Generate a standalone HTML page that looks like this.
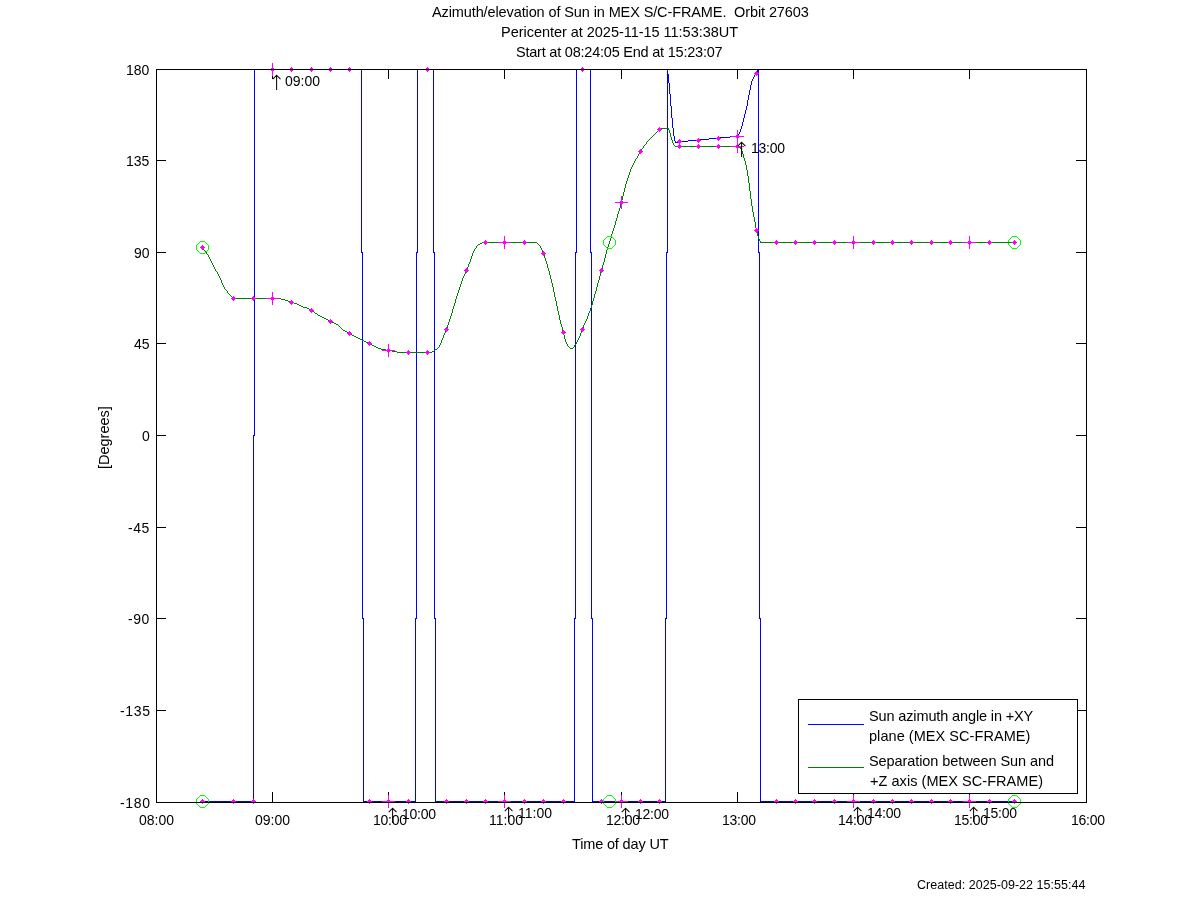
<!DOCTYPE html>
<html lang="en"><head><meta charset="utf-8"><title>Azimuth/elevation of Sun in MEX S/C-FRAME</title>
<style>html,body{margin:0;padding:0;background:#fff}body{width:1200px;height:901px;overflow:hidden}svg{display:block}text{font-family:"Liberation Sans",Arial,Helvetica,sans-serif;fill:#000}</style>
</head><body>
<svg width="1200" height="901" viewBox="0 0 1200 901">
<rect x="0" y="0" width="1200" height="901" fill="#fff"/>
<path d="M272.5,69 v10 M272.5,803 v-11 M388.5,69 v10 M388.5,803 v-11 M504.5,69 v10 M504.5,803 v-11 M621.5,69 v10 M621.5,803 v-11 M737.5,69 v10 M737.5,803 v-11 M853.5,69 v10 M853.5,803 v-11 M969.5,69 v10 M969.5,803 v-11 M156,160.5 h10 M1087,160.5 h-11 M156,252.5 h10 M1087,252.5 h-11 M156,343.5 h10 M1087,343.5 h-11 M156,435.5 h10 M1087,435.5 h-11 M156,527.5 h10 M1087,527.5 h-11 M156,618.5 h10 M1087,618.5 h-11 M156,710.5 h10 M1087,710.5 h-11" fill="none" stroke="#000" stroke-width="1" shape-rendering="crispEdges"/>
<path d="M202.5,801.5 H253.5 V435.5 H254.5 V69.5 H361.5 V252.5 H362.5 V618.5 H363.5 V801.5 H415.5 V618.5 H416.5 V252.5 H417.5 V69.5 H433.5 V252.5 H434.5 V618.5 H435.5 V801.5 H574.5 V618.5 H575.5 V252.5 H576.5 V69.5 H590.5 V252.5 H591.5 V618.5 H592.5 V801.5 H665.5 V618.5 H666.5 V252.5 H667.5 V69.5 M758.5,69.5 V252.5 H759.5 V618.5 H760.5 V801.5 H1014.5" fill="none" stroke="#0000ff" stroke-width="1" shape-rendering="crispEdges"/>
<path d="M730,136h8v1h-8zM720,137h10v1h-10zM709,138h11v1h-11zM700,139h9v1h-9zM688,140h12v1h-12zM678,141h10v1h-10zM675,142h3v1h-3zM667,69h1v5h-1zM668,74h1v9h-1zM669,83h1v11h-1zM670,94h1v12h-1zM671,106h1v12h-1zM672,118h1v10h-1zM673,128h1v8h-1zM674,136h1v5h-1zM675,141h1v1h-1zM738,134h1v2h-1zM739,132h1v2h-1zM740,129h1v3h-1zM741,126h1v3h-1zM742,122h1v4h-1zM743,118h1v4h-1zM744,114h1v4h-1zM745,110h1v4h-1zM746,106h1v4h-1zM747,100h1v6h-1zM748,95h1v5h-1zM749,90h1v5h-1zM750,85h1v5h-1zM751,81h1v4h-1zM752,79h1v2h-1zM753,77h1v2h-1zM754,75h1v2h-1zM755,74h1v1h-1zM756,72h1v2h-1zM757,70h1v2h-1zM758,69h1v1h-1z" fill="#0000ff" stroke="none" shape-rendering="crispEdges"/>
<path d="M200,241 h5v1h-5z M200,253 h5v1h-5z M196,245 h1v5h-1z M208,245 h1v5h-1z M205,242 h1v1h-1z M199,242 h1v1h-1z M205,252 h1v1h-1z M199,252 h1v1h-1z M206,243 h1v1h-1z M198,243 h1v1h-1z M206,251 h1v1h-1z M198,251 h1v1h-1z M207,244 h1v1h-1z M197,244 h1v1h-1z M207,250 h1v1h-1z M197,250 h1v1h-1z M200,795 h5v1h-5z M200,807 h5v1h-5z M196,799 h1v5h-1z M208,799 h1v5h-1z M205,796 h1v1h-1z M199,796 h1v1h-1z M205,806 h1v1h-1z M199,806 h1v1h-1z M206,797 h1v1h-1z M198,797 h1v1h-1z M206,805 h1v1h-1z M198,805 h1v1h-1z M207,798 h1v1h-1z M197,798 h1v1h-1z M207,804 h1v1h-1z M197,804 h1v1h-1z M1012,236 h5v1h-5z M1012,248 h5v1h-5z M1008,240 h1v5h-1z M1020,240 h1v5h-1z M1017,237 h1v1h-1z M1011,237 h1v1h-1z M1017,247 h1v1h-1z M1011,247 h1v1h-1z M1018,238 h1v1h-1z M1010,238 h1v1h-1z M1018,246 h1v1h-1z M1010,246 h1v1h-1z M1019,239 h1v1h-1z M1009,239 h1v1h-1z M1019,245 h1v1h-1z M1009,245 h1v1h-1z M1012,795 h5v1h-5z M1012,807 h5v1h-5z M1008,799 h1v5h-1z M1020,799 h1v5h-1z M1017,796 h1v1h-1z M1011,796 h1v1h-1z M1017,806 h1v1h-1z M1011,806 h1v1h-1z M1018,797 h1v1h-1z M1010,797 h1v1h-1z M1018,805 h1v1h-1z M1010,805 h1v1h-1z M1019,798 h1v1h-1z M1009,798 h1v1h-1z M1019,804 h1v1h-1z M1009,804 h1v1h-1z" fill="#00ff00" stroke="none" shape-rendering="crispEdges"/>
<path d="M660,128h9v1h-9zM675,146h64v1h-64zM739,147h2v1h-2zM482,242h55v1h-55zM760,242h255v1h-255zM480,243h2v1h-2zM478,244h2v1h-2zM233,298h48v1h-48zM281,299h4v1h-4zM285,300h3v1h-3zM288,301h2v1h-2zM290,302h4v1h-4zM294,303h3v1h-3zM297,304h2v1h-2zM299,305h2v1h-2zM301,306h2v1h-2zM303,307h4v1h-4zM307,308h2v1h-2zM309,309h2v1h-2zM312,311h2v1h-2zM315,313h2v1h-2zM318,315h2v1h-2zM320,316h2v1h-2zM322,317h2v1h-2zM324,318h2v1h-2zM326,319h2v1h-2zM328,320h2v1h-2zM330,321h2v1h-2zM332,322h2v1h-2zM334,323h2v1h-2zM336,324h2v1h-2zM343,330h2v1h-2zM345,331h2v1h-2zM347,332h2v1h-2zM350,334h2v1h-2zM352,335h2v1h-2zM354,336h2v1h-2zM356,337h2v1h-2zM358,338h2v1h-2zM360,339h2v1h-2zM362,340h2v1h-2zM364,341h2v1h-2zM366,342h2v1h-2zM368,343h2v1h-2zM370,344h2v1h-2zM372,345h2v1h-2zM374,346h2v1h-2zM376,347h2v1h-2zM378,348h3v1h-3zM570,348h3v1h-3zM381,349h5v1h-5zM435,349h2v1h-2zM386,350h6v1h-6zM392,351h5v1h-5zM432,351h2v1h-2zM397,352h35v1h-35zM202,247h1v1h-1zM203,248h1v2h-1zM204,250h1v1h-1zM205,251h1v1h-1zM206,252h1v2h-1zM207,254h1v1h-1zM208,255h1v2h-1zM209,257h1v2h-1zM210,259h1v2h-1zM211,261h1v2h-1zM212,263h1v2h-1zM213,265h1v2h-1zM214,267h1v2h-1zM215,269h1v2h-1zM216,271h1v1h-1zM217,272h1v2h-1zM218,274h1v2h-1zM219,276h1v2h-1zM220,278h1v2h-1zM221,280h1v3h-1zM222,283h1v2h-1zM223,285h1v2h-1zM224,287h1v2h-1zM225,289h1v1h-1zM226,290h1v1h-1zM227,291h1v2h-1zM228,293h1v1h-1zM229,294h1v1h-1zM230,295h1v1h-1zM231,296h1v1h-1zM232,297h1v1h-1zM311,310h1v1h-1zM314,312h1v1h-1zM317,314h1v1h-1zM338,325h1v1h-1zM339,326h1v1h-1zM340,327h1v1h-1zM341,328h1v1h-1zM342,329h1v1h-1zM349,333h1v1h-1zM434,350h1v1h-1zM437,348h1v1h-1zM438,347h1v1h-1zM439,345h1v2h-1zM440,343h1v2h-1zM441,340h1v3h-1zM442,338h1v2h-1zM443,335h1v3h-1zM444,333h1v2h-1zM445,331h1v2h-1zM446,328h1v3h-1zM447,325h1v3h-1zM448,322h1v3h-1zM449,319h1v3h-1zM450,316h1v3h-1zM451,313h1v3h-1zM452,309h1v4h-1zM453,306h1v3h-1zM454,303h1v3h-1zM455,299h1v4h-1zM456,296h1v3h-1zM457,293h1v3h-1zM458,290h1v3h-1zM459,287h1v3h-1zM460,284h1v3h-1zM461,281h1v3h-1zM462,278h1v3h-1zM463,276h1v2h-1zM464,274h1v2h-1zM465,272h1v2h-1zM466,269h1v3h-1zM467,267h1v2h-1zM468,264h1v3h-1zM469,262h1v2h-1zM470,259h1v3h-1zM471,256h1v3h-1zM472,253h1v3h-1zM473,251h1v2h-1zM474,249h1v2h-1zM475,248h1v1h-1zM476,246h1v2h-1zM477,245h1v1h-1zM537,243h1v1h-1zM538,244h1v1h-1zM539,245h1v1h-1zM540,246h1v2h-1zM541,248h1v2h-1zM542,250h1v2h-1zM543,252h1v3h-1zM544,255h1v3h-1zM545,258h1v3h-1zM546,261h1v3h-1zM547,264h1v4h-1zM548,268h1v3h-1zM549,271h1v4h-1zM550,275h1v4h-1zM551,279h1v4h-1zM552,283h1v4h-1zM553,287h1v5h-1zM554,292h1v5h-1zM555,297h1v4h-1zM556,301h1v5h-1zM557,306h1v5h-1zM558,311h1v4h-1zM559,315h1v5h-1zM560,320h1v4h-1zM561,324h1v3h-1zM562,327h1v4h-1zM563,331h1v4h-1zM564,335h1v4h-1zM565,339h1v3h-1zM566,342h1v2h-1zM567,344h1v2h-1zM568,346h1v1h-1zM569,347h1v1h-1zM573,347h1v1h-1zM574,345h1v2h-1zM575,344h1v1h-1zM576,342h1v2h-1zM577,340h1v2h-1zM578,338h1v2h-1zM579,336h1v2h-1zM580,333h1v3h-1zM581,331h1v2h-1zM582,328h1v3h-1zM583,325h1v3h-1zM584,323h1v2h-1zM585,321h1v2h-1zM586,319h1v2h-1zM587,316h1v3h-1zM588,313h1v3h-1zM589,311h1v2h-1zM590,308h1v3h-1zM591,305h1v3h-1zM592,301h1v4h-1zM593,298h1v3h-1zM594,294h1v4h-1zM595,291h1v3h-1zM596,287h1v4h-1zM597,283h1v4h-1zM598,280h1v3h-1zM599,276h1v4h-1zM600,272h1v4h-1zM601,269h1v3h-1zM602,265h1v4h-1zM603,262h1v3h-1zM604,258h1v4h-1zM605,254h1v4h-1zM606,250h1v4h-1zM607,247h1v3h-1zM608,244h1v3h-1zM609,241h1v3h-1zM610,238h1v3h-1zM611,234h1v4h-1zM612,231h1v3h-1zM613,228h1v3h-1zM614,225h1v3h-1zM615,221h1v4h-1zM616,218h1v3h-1zM617,214h1v4h-1zM618,211h1v3h-1zM619,208h1v3h-1zM620,204h1v4h-1zM621,200h1v4h-1zM622,196h1v4h-1zM623,192h1v4h-1zM624,188h1v4h-1zM625,184h1v4h-1zM626,181h1v3h-1zM627,178h1v3h-1zM628,175h1v3h-1zM629,172h1v3h-1zM630,169h1v3h-1zM631,167h1v2h-1zM632,165h1v2h-1zM633,163h1v2h-1zM634,161h1v2h-1zM635,159h1v2h-1zM636,158h1v1h-1zM637,156h1v2h-1zM638,154h1v2h-1zM639,152h1v2h-1zM640,151h1v1h-1zM641,149h1v2h-1zM642,148h1v1h-1zM643,146h1v2h-1zM644,145h1v1h-1zM645,144h1v1h-1zM646,142h1v2h-1zM647,141h1v1h-1zM648,140h1v1h-1zM649,139h1v1h-1zM650,138h1v1h-1zM651,137h1v1h-1zM652,136h1v1h-1zM653,135h1v1h-1zM654,134h1v1h-1zM655,133h1v1h-1zM656,132h1v1h-1zM657,131h1v1h-1zM658,130h1v1h-1zM659,129h1v1h-1zM668,129h1v1h-1zM669,130h1v3h-1zM670,133h1v4h-1zM671,137h1v3h-1zM672,140h1v3h-1zM673,143h1v2h-1zM674,145h1v1h-1zM740,148h1v1h-1zM741,149h1v2h-1zM742,151h1v3h-1zM743,154h1v4h-1zM744,158h1v3h-1zM745,161h1v4h-1zM746,165h1v5h-1zM747,170h1v6h-1zM748,176h1v7h-1zM749,183h1v8h-1zM750,191h1v8h-1zM751,199h1v7h-1zM752,206h1v6h-1zM753,212h1v5h-1zM754,217h1v5h-1zM755,222h1v6h-1zM756,228h1v4h-1zM757,232h1v4h-1zM758,236h1v3h-1zM759,239h1v2h-1zM760,241h1v1h-1z" fill="#008000" stroke="none" shape-rendering="crispEdges"/>
<path d="M231.0,298.5 l2.5,-2.5 l2.5,2.5 l-2.5,2.5 z M251.0,298.5 l2.5,-2.5 l2.5,2.5 l-2.5,2.5 z M270.0,298.5 l2.5,-2.5 l2.5,2.5 l-2.5,2.5 z M289.0,302.5 l2.5,-2.5 l2.5,2.5 l-2.5,2.5 z M309.0,310.5 l2.5,-2.5 l2.5,2.5 l-2.5,2.5 z M328.0,321.5 l2.5,-2.5 l2.5,2.5 l-2.5,2.5 z M347.0,333.5 l2.5,-2.5 l2.5,2.5 l-2.5,2.5 z M367.0,343.5 l2.5,-2.5 l2.5,2.5 l-2.5,2.5 z M386.0,350.5 l2.5,-2.5 l2.5,2.5 l-2.5,2.5 z M406.0,352.5 l2.5,-2.5 l2.5,2.5 l-2.5,2.5 z M425.0,352.5 l2.5,-2.5 l2.5,2.5 l-2.5,2.5 z M444.0,329.5 l2.5,-2.5 l2.5,2.5 l-2.5,2.5 z M464.0,270.5 l2.5,-2.5 l2.5,2.5 l-2.5,2.5 z M483.0,242.5 l2.5,-2.5 l2.5,2.5 l-2.5,2.5 z M502.0,242.5 l2.5,-2.5 l2.5,2.5 l-2.5,2.5 z M522.0,242.5 l2.5,-2.5 l2.5,2.5 l-2.5,2.5 z M541.0,253.5 l2.5,-2.5 l2.5,2.5 l-2.5,2.5 z M561.0,332.5 l2.5,-2.5 l2.5,2.5 l-2.5,2.5 z M580.0,329.5 l2.5,-2.5 l2.5,2.5 l-2.5,2.5 z M599.0,270.5 l2.5,-2.5 l2.5,2.5 l-2.5,2.5 z M619.0,202.5 l2.5,-2.5 l2.5,2.5 l-2.5,2.5 z M638.0,151.5 l2.5,-2.5 l2.5,2.5 l-2.5,2.5 z M657.0,129.5 l2.5,-2.5 l2.5,2.5 l-2.5,2.5 z M677.0,146.5 l2.5,-2.5 l2.5,2.5 l-2.5,2.5 z M696.0,146.5 l2.5,-2.5 l2.5,2.5 l-2.5,2.5 z M716.0,146.5 l2.5,-2.5 l2.5,2.5 l-2.5,2.5 z M735.0,146.5 l2.5,-2.5 l2.5,2.5 l-2.5,2.5 z M754.0,230.5 l2.5,-2.5 l2.5,2.5 l-2.5,2.5 z M774.0,242.5 l2.5,-2.5 l2.5,2.5 l-2.5,2.5 z M793.0,242.5 l2.5,-2.5 l2.5,2.5 l-2.5,2.5 z M812.0,242.5 l2.5,-2.5 l2.5,2.5 l-2.5,2.5 z M832.0,242.5 l2.5,-2.5 l2.5,2.5 l-2.5,2.5 z M851.0,242.5 l2.5,-2.5 l2.5,2.5 l-2.5,2.5 z M871.0,242.5 l2.5,-2.5 l2.5,2.5 l-2.5,2.5 z M890.0,242.5 l2.5,-2.5 l2.5,2.5 l-2.5,2.5 z M909.0,242.5 l2.5,-2.5 l2.5,2.5 l-2.5,2.5 z M929.0,242.5 l2.5,-2.5 l2.5,2.5 l-2.5,2.5 z M948.0,242.5 l2.5,-2.5 l2.5,2.5 l-2.5,2.5 z M967.0,242.5 l2.5,-2.5 l2.5,2.5 l-2.5,2.5 z M987.0,242.5 l2.5,-2.5 l2.5,2.5 l-2.5,2.5 z M231.0,801.5 l2.5,-2.5 l2.5,2.5 l-2.5,2.5 z M251.0,801.5 l2.5,-2.5 l2.5,2.5 l-2.5,2.5 z M270.0,69.5 l2.5,-2.5 l2.5,2.5 l-2.5,2.5 z M289.0,69.5 l2.5,-2.5 l2.5,2.5 l-2.5,2.5 z M309.0,69.5 l2.5,-2.5 l2.5,2.5 l-2.5,2.5 z M328.0,69.5 l2.5,-2.5 l2.5,2.5 l-2.5,2.5 z M347.0,69.5 l2.5,-2.5 l2.5,2.5 l-2.5,2.5 z M367.0,801.5 l2.5,-2.5 l2.5,2.5 l-2.5,2.5 z M386.0,801.5 l2.5,-2.5 l2.5,2.5 l-2.5,2.5 z M406.0,801.5 l2.5,-2.5 l2.5,2.5 l-2.5,2.5 z M425.0,69.5 l2.5,-2.5 l2.5,2.5 l-2.5,2.5 z M444.0,801.5 l2.5,-2.5 l2.5,2.5 l-2.5,2.5 z M464.0,801.5 l2.5,-2.5 l2.5,2.5 l-2.5,2.5 z M483.0,801.5 l2.5,-2.5 l2.5,2.5 l-2.5,2.5 z M502.0,801.5 l2.5,-2.5 l2.5,2.5 l-2.5,2.5 z M522.0,801.5 l2.5,-2.5 l2.5,2.5 l-2.5,2.5 z M541.0,801.5 l2.5,-2.5 l2.5,2.5 l-2.5,2.5 z M561.0,801.5 l2.5,-2.5 l2.5,2.5 l-2.5,2.5 z M580.0,69.5 l2.5,-2.5 l2.5,2.5 l-2.5,2.5 z M599.0,801.5 l2.5,-2.5 l2.5,2.5 l-2.5,2.5 z M619.0,801.5 l2.5,-2.5 l2.5,2.5 l-2.5,2.5 z M638.0,801.5 l2.5,-2.5 l2.5,2.5 l-2.5,2.5 z M657.0,801.5 l2.5,-2.5 l2.5,2.5 l-2.5,2.5 z M677.0,141.5 l2.5,-2.5 l2.5,2.5 l-2.5,2.5 z M696.0,140.5 l2.5,-2.5 l2.5,2.5 l-2.5,2.5 z M716.0,138.5 l2.5,-2.5 l2.5,2.5 l-2.5,2.5 z M735.0,136.5 l2.5,-2.5 l2.5,2.5 l-2.5,2.5 z M754.0,73.5 l2.5,-2.5 l2.5,2.5 l-2.5,2.5 z M774.0,801.5 l2.5,-2.5 l2.5,2.5 l-2.5,2.5 z M793.0,801.5 l2.5,-2.5 l2.5,2.5 l-2.5,2.5 z M812.0,801.5 l2.5,-2.5 l2.5,2.5 l-2.5,2.5 z M832.0,801.5 l2.5,-2.5 l2.5,2.5 l-2.5,2.5 z M851.0,801.5 l2.5,-2.5 l2.5,2.5 l-2.5,2.5 z M871.0,801.5 l2.5,-2.5 l2.5,2.5 l-2.5,2.5 z M890.0,801.5 l2.5,-2.5 l2.5,2.5 l-2.5,2.5 z M909.0,801.5 l2.5,-2.5 l2.5,2.5 l-2.5,2.5 z M929.0,801.5 l2.5,-2.5 l2.5,2.5 l-2.5,2.5 z M948.0,801.5 l2.5,-2.5 l2.5,2.5 l-2.5,2.5 z M967.0,801.5 l2.5,-2.5 l2.5,2.5 l-2.5,2.5 z M987.0,801.5 l2.5,-2.5 l2.5,2.5 l-2.5,2.5 z M200.0,801.5 l2.5,-2.5 l2.5,2.5 l-2.5,2.5 z M1012.0,801.5 l2.5,-2.5 l2.5,2.5 l-2.5,2.5 z M200.0,247.5 l2.5,-2.5 l2.5,2.5 l-2.5,2.5 z M1012.0,242.5 l2.5,-2.5 l2.5,2.5 l-2.5,2.5 z" fill="#ff00ff" stroke="none" shape-rendering="crispEdges"/>
<path d="M266.0,298.5 h13 M272.5,292.0 v13 M382.0,350.5 h13 M388.5,344.0 v13 M498.0,242.5 h13 M504.5,236.0 v13 M615.0,202.5 h13 M621.5,196.0 v13 M731.0,146.5 h13 M737.5,140.0 v13 M847.0,242.5 h13 M853.5,236.0 v13 M963.0,242.5 h13 M969.5,236.0 v13 M266.0,69.5 h13 M272.5,63.0 v13 M382.0,801.5 h13 M388.5,795.0 v13 M498.0,801.5 h13 M504.5,795.0 v13 M615.0,801.5 h13 M621.5,795.0 v13 M731.0,136.5 h13 M737.5,130.0 v13 M847.0,801.5 h13 M853.5,795.0 v13 M963.0,801.5 h13 M969.5,795.0 v13" fill="none" stroke="#ff00ff" stroke-width="1" shape-rendering="crispEdges"/>
<path d="M607,236 h5v1h-5z M607,248 h5v1h-5z M603,240 h1v5h-1z M615,240 h1v5h-1z M612,237 h1v1h-1z M606,237 h1v1h-1z M612,247 h1v1h-1z M606,247 h1v1h-1z M613,238 h1v1h-1z M605,238 h1v1h-1z M613,246 h1v1h-1z M605,246 h1v1h-1z M614,239 h1v1h-1z M604,239 h1v1h-1z M614,245 h1v1h-1z M604,245 h1v1h-1z M607,795 h5v1h-5z M607,807 h5v1h-5z M603,799 h1v5h-1z M615,799 h1v5h-1z M612,796 h1v1h-1z M606,796 h1v1h-1z M612,806 h1v1h-1z M606,806 h1v1h-1z M613,797 h1v1h-1z M605,797 h1v1h-1z M613,805 h1v1h-1z M605,805 h1v1h-1z M614,798 h1v1h-1z M604,798 h1v1h-1z M614,804 h1v1h-1z M604,804 h1v1h-1z" fill="#00ff00" stroke="none" shape-rendering="crispEdges"/>
<path d="M156.5,69.5 H1086.5 V802.5 H156.5 Z" fill="none" stroke="#000" stroke-width="1" shape-rendering="crispEdges"/>
<rect x="798.5" y="699.5" width="279" height="94" fill="#fff" stroke="#000" stroke-width="1" shape-rendering="crispEdges"/>
<path d="M808,724.5 H864" stroke="#0000ff" stroke-width="1" fill="none" shape-rendering="crispEdges"/>
<path d="M808,767.5 H864" stroke="#008000" stroke-width="1" fill="none" shape-rendering="crispEdges"/>
<text x="432.00" y="17.00" font-size="14.5" textLength="376.81" lengthAdjust="spacing" xml:space="preserve">Azimuth/elevation of Sun in MEX S/C-FRAME.  Orbit 27603</text>
<text x="501.00" y="37.00" font-size="14.5" textLength="237.06" lengthAdjust="spacing" xml:space="preserve">Pericenter at 2025-11-15 11:53:38UT</text>
<text x="516.00" y="57.00" font-size="14.5" textLength="206.64" lengthAdjust="spacing" xml:space="preserve">Start at 08:24:05 End at 15:23:07</text>
<text x="572.00" y="849.00" font-size="14.5" textLength="96.58" lengthAdjust="spacing" xml:space="preserve">Time of day UT</text>
<text x="917.00" y="889.00" font-size="12.5" textLength="168.50" lengthAdjust="spacing" xml:space="preserve">Created: 2025-09-22 15:55:44</text>
<text x="869.00" y="721.00" font-size="14.5" textLength="164.27" lengthAdjust="spacing" xml:space="preserve">Sun azimuth angle in +XY</text>
<text x="869.00" y="741.00" font-size="14.5" textLength="161.34" lengthAdjust="spacing" xml:space="preserve">plane (MEX SC-FRAME)</text>
<text x="869.00" y="766.00" font-size="14.5" textLength="185.05" lengthAdjust="spacing" xml:space="preserve">Separation between Sun and</text>
<text x="870.00" y="786.00" font-size="14.5" textLength="173.00" lengthAdjust="spacing" xml:space="preserve">+Z axis (MEX SC-FRAME)</text>
<text x="126.00" y="75.00" font-size="14" xml:space="preserve">180</text>
<text x="126.00" y="166.00" font-size="14" xml:space="preserve">135</text>
<text x="134.00" y="258.00" font-size="14" xml:space="preserve">90</text>
<text x="134.00" y="349.00" font-size="14" xml:space="preserve">45</text>
<text x="142.00" y="441.00" font-size="14" xml:space="preserve">0</text>
<text x="128.00" y="533.00" font-size="14" textLength="21.23" lengthAdjust="spacing" xml:space="preserve">-45</text>
<text x="128.00" y="624.00" font-size="14" textLength="21.23" lengthAdjust="spacing" xml:space="preserve">-90</text>
<text x="120.00" y="716.00" font-size="14" textLength="30.03" lengthAdjust="spacing" xml:space="preserve">-135</text>
<text x="120.00" y="808.00" font-size="14" textLength="30.03" lengthAdjust="spacing" xml:space="preserve">-180</text>
<text x="139.00" y="825.00" font-size="14" textLength="35.05" lengthAdjust="spacing" xml:space="preserve">08:00</text>
<text x="255.00" y="825.00" font-size="14" textLength="35.05" lengthAdjust="spacing" xml:space="preserve">09:00</text>
<text x="373.00" y="825.00" font-size="14" textLength="34.05" lengthAdjust="spacing" xml:space="preserve">10:00</text>
<text x="489.00" y="825.00" font-size="14" textLength="34.00" lengthAdjust="spacing" xml:space="preserve">11:00</text>
<text x="606.00" y="825.00" font-size="14" textLength="34.05" lengthAdjust="spacing" xml:space="preserve">12:00</text>
<text x="722.00" y="825.00" font-size="14" textLength="34.05" lengthAdjust="spacing" xml:space="preserve">13:00</text>
<text x="838.00" y="825.00" font-size="14" textLength="34.05" lengthAdjust="spacing" xml:space="preserve">14:00</text>
<text x="954.00" y="825.00" font-size="14" textLength="34.05" lengthAdjust="spacing" xml:space="preserve">15:00</text>
<text x="1071.00" y="825.00" font-size="14" textLength="34.05" lengthAdjust="spacing" xml:space="preserve">16:00</text>
<text x="268.00" y="90.00" font-size="21" style="font-family:'DejaVu Sans',sans-serif" font-weight="200" xml:space="preserve">↑</text>
<text x="285.00" y="86.00" font-size="14" textLength="35.05" lengthAdjust="spacing" xml:space="preserve">09:00</text>
<text x="733.00" y="157.00" font-size="21" style="font-family:'DejaVu Sans',sans-serif" font-weight="200" xml:space="preserve">↑</text>
<text x="751.00" y="153.00" font-size="14" textLength="34.05" lengthAdjust="spacing" xml:space="preserve">13:00</text>
<text x="384.00" y="823.00" font-size="21" style="font-family:'DejaVu Sans',sans-serif" font-weight="200" xml:space="preserve">↑</text>
<text x="402.00" y="819.00" font-size="14" textLength="34.05" lengthAdjust="spacing" xml:space="preserve">10:00</text>
<text x="500.00" y="822.00" font-size="21" style="font-family:'DejaVu Sans',sans-serif" font-weight="200" xml:space="preserve">↑</text>
<text x="518.00" y="818.00" font-size="14" textLength="34.00" lengthAdjust="spacing" xml:space="preserve">11:00</text>
<text x="617.00" y="823.00" font-size="21" style="font-family:'DejaVu Sans',sans-serif" font-weight="200" xml:space="preserve">↑</text>
<text x="635.00" y="819.00" font-size="14" textLength="34.05" lengthAdjust="spacing" xml:space="preserve">12:00</text>
<text x="849.00" y="822.00" font-size="21" style="font-family:'DejaVu Sans',sans-serif" font-weight="200" xml:space="preserve">↑</text>
<text x="867.00" y="818.00" font-size="14" textLength="34.05" lengthAdjust="spacing" xml:space="preserve">14:00</text>
<text x="965.00" y="822.00" font-size="21" style="font-family:'DejaVu Sans',sans-serif" font-weight="200" xml:space="preserve">↑</text>
<text x="983.00" y="818.00" font-size="14" textLength="34.05" lengthAdjust="spacing" xml:space="preserve">15:00</text>
<text transform="translate(109,469.00) rotate(-90)" font-size="14.5" textLength="62.88" lengthAdjust="spacing">[Degrees]</text>
</svg></body></html>
